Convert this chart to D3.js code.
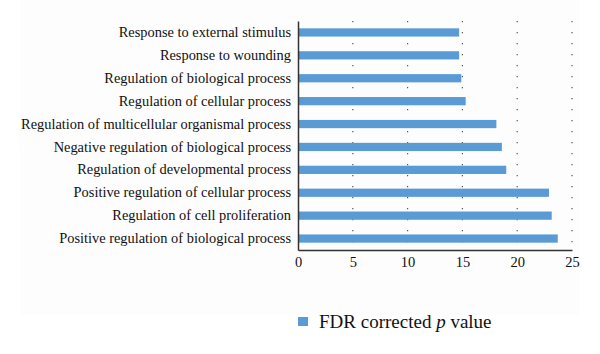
<!DOCTYPE html>
<html>
<head>
<meta charset="utf-8">
<script src="https://cdn.jsdelivr.net/npm/d3@7"></script>
<style>
  body { margin: 0; background: #fff; }
  svg { display: block; }
  .axis text { font-family: "Liberation Serif", "DejaVu Serif", serif; fill: #111; }
  .axis path, .axis line { stroke: #333; }
</style>
</head>
<body>
<div id="graphic"></div>
<script>
// Categories, top to bottom
const categories = [
    'Response to external stimulus',
    'Response to wounding',
    'Regulation of biological process',
    'Regulation of cellular process',
    'Regulation of multicellular organismal process',
    'Negative regulation of biological process',
    'Regulation of developmental process',
    'Positive regulation of cellular process',
    'Regulation of cell proliferation',
    'Positive regulation of biological process'
];
// FDR corrected p value (as shown on chart)
const values = [14.7, 14.7, 14.9, 15.3, 18.1, 18.6, 19.0, 22.9, 23.15, 23.7];
const xTicks = [0, 5, 10, 15, 20, 25];
const seriesName = 'FDR corrected ';

const width = 600, height = 354;
const margin = { top: 21, right: 28, bottom: 104, left: 298 };
const chartWidth = width - margin.left - margin.right;
const chartHeight = height - margin.top - margin.bottom;

const svg = d3.select('#graphic').append('svg')
    .attr('width', width)
    .attr('height', height);

// faint panel behind the figure
svg.append('rect')
    .attr('x', 20).attr('y', 0)
    .attr('width', 560).attr('height', 315)
    .attr('fill', '#fdfdfd');

const g = svg.append('g').attr('transform', `translate(${margin.left},${margin.top})`);

const x = d3.scaleLinear().domain([0, 25]).range([0, chartWidth]);
const y = d3.scaleBand().domain(categories).range([0, chartHeight]).paddingInner(0.64).paddingOuter(0.32);

// dotted vertical gridlines
g.append('g')
    .selectAll('line')
    .data(xTicks.filter(d => d > 0))
    .join('line')
    .attr('x1', d => x(d)).attr('x2', d => x(d))
    .attr('y1', 0).attr('y2', chartHeight)
    .attr('stroke', '#555')
    .attr('stroke-width', 1.2)
    .attr('stroke-dasharray', '1.2,9.8');

// bars
g.append('g')
    .selectAll('rect')
    .data(categories.map((c, i) => ({ name: c, value: values[i] })))
    .join('rect')
    .attr('x', 0)
    .attr('y', d => y(d.name))
    .attr('width', d => x(d.value))
    .attr('height', y.bandwidth())
    .attr('fill', '#5b9bd5');

// x axis
const xAxis = g.append('g')
    .attr('class', 'x axis')
    .attr('transform', `translate(0,${chartHeight})`)
    .call(d3.axisBottom(x).tickValues(xTicks).tickSize(0).tickPadding(7));
xAxis.selectAll('text').style('font-size', '14.5px');
xAxis.select('.domain').attr('stroke-width', 1.5);

// y axis
const yAxis = g.append('g')
    .attr('class', 'y axis')
    .call(d3.axisLeft(y).tickSize(0).tickPadding(7));
yAxis.selectAll('text').style('font-size', '14.4px');
yAxis.select('.domain').attr('stroke-width', 1.5);

// legend
const legend = svg.append('g').attr('transform', 'translate(298,317)');
legend.append('rect')
    .attr('width', 10).attr('height', 9)
    .attr('fill', '#5b9bd5');
const lt = legend.append('text')
    .attr('x', 21).attr('y', 11)
    .style('font-family', '"Liberation Serif", "DejaVu Serif", serif')
    .style('font-size', '19px')
    .attr('fill', '#111');
lt.append('tspan').text(seriesName);
lt.append('tspan').style('font-style', 'italic').text('p');
lt.append('tspan').text(' value');
</script>
</body>
</html>
